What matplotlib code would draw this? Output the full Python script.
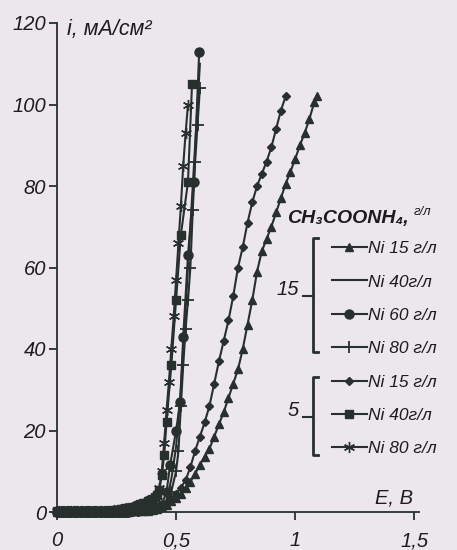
import matplotlib
matplotlib.use("Agg")
import matplotlib.pyplot as plt
from matplotlib.lines import Line2D

# ---------------- data ----------------
low_E = [0.00, 0.01, 0.02, 0.03, 0.04, 0.05, 0.06, 0.07, 0.08, 0.09, 0.10,
         0.11, 0.12, 0.13, 0.14, 0.15, 0.16, 0.17, 0.18, 0.19, 0.20,
         0.21, 0.22, 0.23, 0.24, 0.25, 0.26, 0.27, 0.28, 0.29, 0.30]
low_i = [0.0, 0.0, 0.0, 0.0, 0.0, 0.0, 0.0, 0.0, 0.0, 0.0, 0.0,
         0.0, 0.0, 0.0, 0.0, 0.0, 0.0, 0.0, 0.0, 0.0, 0.0,
         0.0, 0.0, 0.0, 0.0, 0.05, 0.05, 0.1, 0.1, 0.1, 0.1]
low_i_feet = [0.2, 0.2, 0.2, 0.2, 0.2, 0.2, 0.2, 0.2, 0.2, 0.2, 0.2,
              0.2, 0.2, 0.2, 0.2, 0.2, 0.2, 0.2, 0.2, 0.2, 0.2,
              0.3, 0.3, 0.3, 0.4, 0.5, 0.6, 0.7, 0.8, 0.9, 1.0]

# 15 g/l CH3COONH4
tri_E = low_E + [0.32, 0.34, 0.36, 0.38, 0.40, 0.42, 0.44, 0.46, 0.48, 0.50,
                 0.52, 0.54, 0.56, 0.58, 0.60, 0.62, 0.64, 0.66, 0.68, 0.70,
                 0.72, 0.74, 0.76, 0.78, 0.80, 0.82, 0.84, 0.86, 0.88, 0.90,
                 0.92, 0.94, 0.96, 0.98, 1.00, 1.02, 1.04, 1.06, 1.08, 1.09]
tri_i = low_i + [0.15, 0.2, 0.25, 0.3, 0.5, 0.8, 1.2, 1.8, 2.6, 3.4,
                 4.5, 5.8, 7.4, 9.4, 11.6, 13.6, 15.5, 18.5, 21.5, 24.5,
                 28.0, 31.5, 35.0, 40.0, 46.0, 52.0, 59.0, 64.0, 67.0, 70.0,
                 73.5, 77.0, 80.5, 83.5, 86.6, 90.0, 93.0, 96.5, 100.5, 102.0]

line40_E = low_E + [0.32, 0.34, 0.36, 0.38, 0.40, 0.42, 0.44, 0.46, 0.48, 0.50,
                    0.52, 0.54, 0.56, 0.58, 0.60]
line40_i = low_i + [0.1, 0.2, 0.2, 0.3, 0.4, 0.8, 1.5, 3.0, 8.0, 16.0,
                    30.0, 50.0, 70.0, 90.0, 110.0]

circ_E = low_E + [0.32, 0.34, 0.36, 0.38, 0.40, 0.42, 0.44, 0.46, 0.475, 0.50,
                  0.517, 0.53, 0.55, 0.575, 0.597]
circ_i = low_i + [0.2, 0.3, 0.4, 0.5, 0.7, 1.0, 1.8, 5.0, 11.5, 20.0,
                  27.0, 43.0, 63.0, 81.0, 113.0]

plus_E = low_E + [0.32, 0.34, 0.36, 0.38, 0.40, 0.42, 0.44, 0.46, 0.48, 0.50,
                  0.51, 0.52, 0.53, 0.54, 0.55, 0.56, 0.57, 0.58, 0.59, 0.60]
plus_i = low_i + [0.2, 0.3, 0.4, 0.5, 0.6, 0.8, 1.2, 2.0, 5.0, 10.0,
                  15.0, 26.0, 36.0, 45.0, 52.0, 60.0, 74.0, 86.0, 95.0, 104.0]

# 5 g/l CH3COONH4
dia_E = low_E + [0.32, 0.34, 0.36, 0.38, 0.40, 0.42, 0.44, 0.46, 0.48, 0.50,
                 0.52, 0.54, 0.56, 0.58, 0.60, 0.62, 0.64, 0.66, 0.68, 0.70,
                 0.72, 0.74, 0.76, 0.78, 0.80, 0.82, 0.84, 0.86, 0.88, 0.90,
                 0.92, 0.94, 0.96]
dia_i = low_i + [0.15, 0.2, 0.25, 0.3, 0.4, 0.8, 1.4, 2.2, 3.2, 4.5,
                 6.0, 7.8, 11.0, 15.0, 18.5, 22.0, 26.0, 31.5, 37.0, 42.0,
                 47.0, 53.0, 60.0, 65.0, 71.0, 76.0, 80.0, 83.0, 86.0, 89.5,
                 94.0, 98.5, 102.0]

sq_E = low_E + [0.31, 0.32, 0.33, 0.34, 0.35, 0.36, 0.37, 0.38, 0.39, 0.40,
                0.41, 0.42, 0.43, 0.44, 0.45, 0.46, 0.48, 0.50, 0.52, 0.55, 0.567]
sq_i = low_i_feet + [1.1, 1.3, 1.5, 1.7, 1.9, 2.1, 2.3, 2.6, 2.9, 3.2,
                     3.6, 4.2, 5.5, 9.0, 14.0, 22.0, 36.0, 52.0, 68.0, 81.0, 105.0]

ast_E = low_E + [0.31, 0.32, 0.33, 0.34, 0.35, 0.36, 0.37, 0.38, 0.39, 0.40,
                 0.41, 0.42, 0.43, 0.44, 0.45, 0.46, 0.47, 0.48, 0.49, 0.50,
                 0.51, 0.52, 0.53, 0.54, 0.55]
ast_i = low_i_feet + [1.0, 1.2, 1.3, 1.5, 1.7, 1.9, 2.1, 2.3, 2.6, 2.9,
                      3.3, 4.0, 6.0, 10.0, 17.0, 25.0, 32.0, 40.0, 48.0, 57.0,
                      66.0, 75.0, 85.0, 93.0, 100.0]

x_ticks = [0, 0.5, 1, 1.5]
x_ticklabels = ["0", "0,5", "1", "1,5"]
y_ticks = [0, 20, 40, 60, 80, 100, 120]
y_ticklabels = ["0", "20", "40", "60", "80", "100", "120"]

labels = ["Ni 15 г/л", "Ni 40г/л", "Ni 60 г/л", "Ni 80 г/л",
          "Ni 15 г/л", "Ni 40г/л", "Ni 80 г/л"]

# ---------------- style ----------------
BG = "#ebe7ed"
LC = "#28302e"
TC = "#1c1c1c"
FONT = "Liberation Sans"

W, H = 457, 550
fig = plt.figure(figsize=(W / 100, H / 100), dpi=100, facecolor=BG)


def fx(px):
    return px / W


def fy(py):
    return 1 - py / H


ax = fig.add_axes([fx(57), fy(512), fx(419) - fx(57), fy(23) - fy(512)])
ax.set_facecolor(BG)

common = dict(color=LC, lw=1.5, clip_on=False, markeredgecolor=LC, markerfacecolor=LC)
h1, = ax.plot(tri_E, tri_i, marker="^", ms=5.5, **common)
h2, = ax.plot(line40_E, line40_i, **common)
h3, = ax.plot(circ_E, circ_i, marker="o", ms=6.5, **common)
h4, = ax.plot(plus_E, plus_i, marker="+", ms=8, mew=1.3, **common)
h5, = ax.plot(dia_E, dia_i, marker="D", ms=4.2, **common)
h6, = ax.plot(sq_E, sq_i, marker="s", ms=5.5, **common)
h7, = ax.plot(ast_E, ast_i, marker=(6, 2, 0), ms=8, mew=1.0, **common)

ax.set_xlim(0, 1.52)
ax.set_ylim(0, 120)
for s in ["top", "right"]:
    ax.spines[s].set_visible(False)
for s in ["left", "bottom"]:
    ax.spines[s].set_color(LC)
    ax.spines[s].set_linewidth(1.3)

ax.set_xticks(x_ticks)
ax.set_xticklabels(x_ticklabels)
ax.set_yticks(y_ticks)
ax.set_yticklabels(y_ticklabels)
ax.tick_params(axis="y", direction="out", length=6, width=1.3, pad=2, color=LC,
               labelsize=14.5, labelcolor=TC)
ax.tick_params(axis="x", direction="out", length=6, width=1.3, pad=8, color=LC,
               labelsize=14.5, labelcolor=TC)
for lab in ax.get_xticklabels() + ax.get_yticklabels():
    lab.set_family(FONT)
    lab.set_style("italic")

# axis labels
fig.text(fx(67), fy(35), "i, мА/см²", family=FONT, style="italic", fontsize=15.5,
         color=TC, va="baseline", ha="left")
fig.text(fx(375), fy(503), "E, В", family=FONT, style="italic", fontsize=14.5,
         color=TC, va="baseline", ha="left")

# legend
leg = ax.legend([h1, h2, h3, h4, h5, h6, h7], labels, loc="upper left",
                bbox_to_anchor=(fx(332), fy(241)), bbox_transform=fig.transFigure,
                frameon=False, borderpad=0, borderaxespad=0, handlelength=2.0,
                handletextpad=0.05, labelspacing=1.05,
                prop=dict(family=FONT, style="italic", size=12.5))
for t in leg.get_texts():
    t.set_color(TC)

# legend title
fig.text(fx(287), fy(223), "CH₃COONH₄,", family=[FONT, "DejaVu Sans"], weight="bold",
         style="italic", fontsize=14, color=TC, va="baseline", ha="left")
fig.text(fx(414), fy(215), "г/л", family=FONT, style="italic", fontsize=9.5,
         color=TC, va="baseline", ha="left")

# group brackets
def bracket(y0, y1, ym, label):
    fig.add_artist(Line2D([fx(318), fx(313), fx(313), fx(318)],
                          [fy(y0), fy(y0), fy(y1), fy(y1)],
                          transform=fig.transFigure, color=LC, lw=2.0))
    fig.add_artist(Line2D([fx(303), fx(313)], [fy(ym), fy(ym)],
                          transform=fig.transFigure, color=LC, lw=1.5))
    fig.text(fx(299), fy(ym - 1), label, family=FONT, style="italic", fontsize=14.5,
             color=TC, va="baseline", ha="right")


bracket(238, 352, 296, "15")
bracket(377, 455, 417, "5")

fig.savefig("out.png", dpi=100, facecolor=BG)
